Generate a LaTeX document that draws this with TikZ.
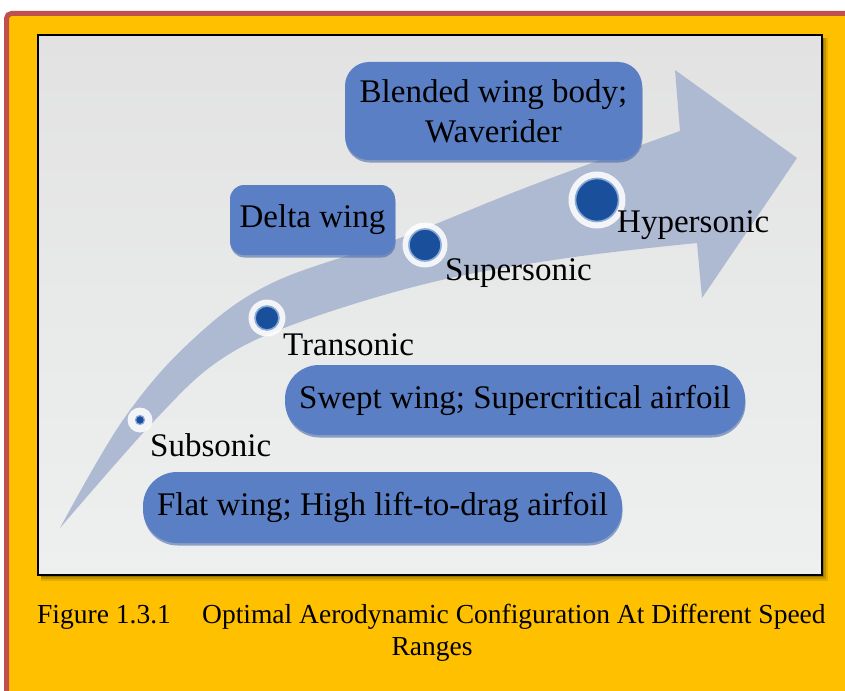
\documentclass[tikz,border=0pt]{standalone}
\usepackage{fontspec}
\setmainfont{Liberation Serif}
\usetikzlibrary{shadows}
\definecolor{orangebg}{HTML}{FFC000}
\definecolor{redborder}{HTML}{C0504D}
\definecolor{paneltop}{HTML}{E2E2E2}
\definecolor{panelbot}{HTML}{EEF0F0}
\definecolor{arrowc}{HTML}{AEB9D2}
\definecolor{boxblue}{HTML}{5B7FC5}
\definecolor{boxshade}{HTML}{4A69A8}
\definecolor{dotblue}{HTML}{1A4F9C}
\definecolor{ringblue}{HTML}{8AAAD8}
\tikzset{
  cfgbox/.style={fill=boxblue, inner sep=0pt, align=center,
    font=\fontsize{33}{40}\selectfont,
    drop shadow={shadow xshift=0.5pt, shadow yshift=-2.5pt, fill=boxshade, opacity=0.6}},
  halo/.style={circle, fill=white, fill opacity=0.85, inner sep=0pt},
  core/.style={circle, fill=dotblue, draw=ringblue, line width=1.6pt, inner sep=0pt},
  lbl/.style={inner sep=0pt, anchor=base west, font=\fontsize{33}{40}\selectfont},
  captxt/.style={inner sep=0pt, anchor=base west, font=\fontsize{27.5}{32}\selectfont}
}
\begin{document}
\begin{tikzpicture}[x=1pt,y=-1pt]
\useasboundingbox (0,0) rectangle (845,690);
\clip (0,0) rectangle (845,690);
% page frame
\fill[white] (0,0) rectangle (845,690);
\fill[orangebg] (6,13) rectangle (900,760);
\draw[redborder, line width=5pt, rounded corners=5pt] (6.5,800) -- (6.5,13.5) -- (900,13.5);
% panel shadow and panel
\fill[black, opacity=0.10] (41,38) rectangle (828,581);
\fill[black, opacity=0.15] (41,38) rectangle (826,579);
\fill[black, opacity=0.20] (41,38) rectangle (824,577);
\shade[top color=paneltop, bottom color=panelbot] (38,35) rectangle (822,575);
\draw[black, line width=1.8pt] (38,35) rectangle (822,575);
% curved arrow
\fill[arrowc] plot[smooth, tension=0.6] coordinates {(60,528) (123,420) (190,342) (270,284) (400,238) (530,186) (680,131)}
  -- (675,70) -- (797,158) -- (702,298) -- (697,243)
  -- plot[smooth, tension=0.6] coordinates {(697,243) (567,258) (433,282) (300,322) (220,360) (155,420) (60,528)} -- cycle;
% boxes
\node[cfgbox, rounded corners=24pt, minimum width=297pt, minimum height=98pt] (bwb) at (493.5,111) {Blended wing body;\\Waverider};
\node[cfgbox, rounded corners=14pt, minimum width=165pt, minimum height=70pt] (delta) at (312.5,220) {Delta wing};
\node[cfgbox, rounded corners=34pt, minimum width=460pt, minimum height=70pt] (swept) at (515,400) {Swept wing; Supercritical airfoil};
\node[cfgbox, rounded corners=34pt, minimum width=479pt, minimum height=71pt] (flat) at (382.5,507.5) {Flat wing; High lift-to-drag airfoil};
% dots
\node[halo, minimum size=25pt] (subh) at (140,420) {};
\node[core, minimum size=9pt, line width=1.2pt] (subc) at (subh) {};
\node[halo, minimum size=37pt] (transh) at (267,318) {};
\node[core, minimum size=24pt] (transc) at (transh) {};
\node[halo, minimum size=45pt] (superh) at (425,245) {};
\node[core, minimum size=32pt] (superc) at (superh) {};
\node[halo, minimum size=57pt] (hyperh) at (597,200) {};
\node[core, minimum size=43pt] (hyperc) at (hyperh) {};
% labels
\node[lbl] (sublbl) at (150,456) {Subsonic};
\node[lbl] (translbl) at (283,355) {Transonic};
\node[lbl] (superlbl) at (445,280) {Supersonic};
\node[lbl] (hyperlbl) at (617,232) {Hypersonic};
% caption
\node[captxt] (capnum) at (37,623) {Figure 1.3.1};
\node[captxt] (captitle) at (202,623) {Optimal Aerodynamic Configuration At Different Speed};
\node[captxt, anchor=base] (capend) at (432,655) {Ranges};
\end{tikzpicture}
\end{document}
